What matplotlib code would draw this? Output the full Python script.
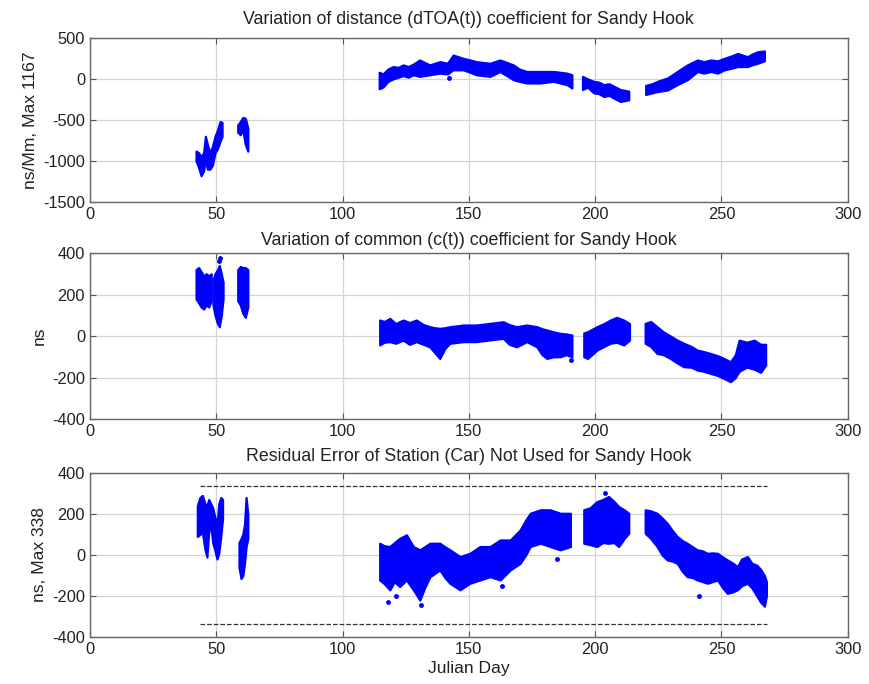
import matplotlib
matplotlib.use("Agg")
import matplotlib.pyplot as plt

plt.rcParams['font.family'] = ['Liberation Sans', 'DejaVu Sans']
plt.rcParams['font.size'] = 11.8
plt.rcParams['axes.unicode_minus'] = False

BLUE = "#0000ff"

# ---- panel 1: distance coefficient, ns/Mm (segments of day, low, high) ----
p1_days_a = [42, 43, 44, 45, 45.7, 46.5, 47.5, 48.5, 49.5, 50.5, 51.5, 52.3]
p1_lo_a = [-1000, -1080, -1180, -1120, -980, -1100, -1100, -1050, -900, -850, -760, -700]
p1_hi_a = [-880, -900, -950, -900, -700, -800, -900, -820, -700, -620, -520, -530]

p1_days_b = [58.5, 59.5, 60.5, 61.5, 62.5]
p1_lo_b = [-650, -680, -620, -800, -880]
p1_hi_b = [-560, -520, -470, -480, -600]

p1_days_c = [114.5, 116, 118, 120, 122, 124, 126, 128, 130.5, 134.5, 138.5, 141.5,
             143.8, 147.8, 150.5, 153, 158.3, 162.3, 165, 167.6, 170, 172.9, 178.2,
             183.5, 188.8, 190.8]
p1_lo_c = [-120, -100, -30, 0, 20, 40, 20, 50, 30, 50, 70, 60,
           110, 110, 80, 50, 30, 90, 40, -10, -30, -50, -50,
           -30, -70, -110]
p1_hi_c = [80, 60, 120, 150, 140, 170, 150, 180, 230, 170, 210, 190,
           290, 250, 230, 210, 190, 230, 200, 170, 120, 90, 90,
           90, 70, 50]

p1_days_d = [195, 197, 199.4, 201.5, 203.4, 205.5, 207.4, 210, 213.3]
p1_lo_d = [-130, -100, -170, -180, -215, -200, -235, -275, -255]
p1_hi_d = [30, 0, -30, -40, -70, -60, -90, -130, -150]

p1_days_e = [220, 222.5, 224.6, 228.6, 232.5, 236.5, 240.5, 243, 245.8, 248.5,
             251.1, 254, 256.4, 260.3, 262, 264.3, 267]
p1_lo_e = [-190, -170, -155, -135, -70, -10, 90, 70, 90, 70,
           110, 130, 150, 150, 170, 190, 220]
p1_hi_e = [-80, -60, -30, 10, 90, 170, 230, 210, 230, 220,
           250, 280, 310, 270, 300, 330, 340]

p1_out_days = [142]
p1_out_vals = [10]

# ---- panel 2: common coefficient, ns ----
p2_days_a = [42, 43, 44, 45, 46, 47, 48]
p2_lo_a = [180, 160, 140, 130, 150, 140, 170]
p2_hi_a = [320, 330, 310, 290, 300, 290, 300]

p2_days_b = [48.7, 49.5, 50.5, 51.2, 52, 52.7]
p2_lo_b = [150, 100, 60, 45, 100, 180]
p2_hi_b = [270, 300, 320, 340, 300, 260]

p2_days_c = [58.5, 59.5, 60.5, 61.5, 62.5]
p2_lo_c = [170, 150, 110, 90, 140]
p2_hi_c = [320, 335, 330, 330, 320]

p2_days_d = [114.7, 116.5, 118.7, 121, 124, 126.5, 129.2, 132, 134.5, 136.5, 138.5,
             140.5, 142.5, 147.8, 153, 158.3, 163.6, 166, 168.9, 172.9, 176.9,
             179, 180.9, 183.5, 186.1, 188.5, 190.8]
p2_lo_d = [-43, -30, -27, -35, -20, -40, -27, -40, -52, -80, -108,
           -60, -35, -27, -27, -19, -11, -40, -52, -27, -52,
           -90, -108, -100, -100, -90, -100]
p2_hi_d = [77, 70, 85, 60, 77, 65, 77, 55, 45, 40, 37,
           40, 45, 53, 53, 61, 69, 55, 45, 53, 45,
           35, 29, 20, 13, 10, 5]

p2_days_e = [195.5, 197, 200.7, 203.5, 206, 208.5, 211.3, 213.6]
p2_lo_e = [-100, -108, -68, -50, -35, -30, -43, -20]
p2_hi_e = [15, 21, 45, 60, 77, 90, 77, 60]

p2_days_f = [219.8, 222, 224.5, 227, 229.8, 232.5, 235.1, 238, 240.4, 243, 245.6,
             248.5, 250.9, 253.6, 255.5, 257, 260, 263, 265.5, 267.5]
p2_lo_f = [-35, -50, -84, -90, -108, -130, -148, -150, -164, -170, -180,
           -190, -204, -220, -200, -170, -150, -160, -175, -140]
p2_hi_f = [61, 70, 45, 20, 0, -20, -35, -50, -68, -75, -84,
           -95, -108, -124, -90, -20, -30, -20, -40, -40]

p2_out_days = [51, 51.3, 190.5]
p2_out_vals = [360, 375, -115]

# ---- panel 3: residual error, ns ----
p3_days_a = [42.5, 43.5, 44.5, 45.5, 46.3, 47, 47.8, 48.6, 49.5, 50.3, 51, 51.8, 52.5]
p3_lo_a = [90, 100, 110, 30, -10, 110, 150, 60, 20, -20, 10, 90, 180]
p3_hi_a = [240, 280, 290, 250, 240, 270, 250, 230, 180, 150, 250, 280, 270]

p3_days_b = [59, 59.8, 60.5, 61.2, 61.8, 62.5]
p3_lo_b = [-60, -115, -100, -40, 40, 80]
p3_hi_b = [60, 80, 100, 150, 280, 200]

p3_days_c = [114.7, 116.5, 118.7, 120.5, 122.6, 125.3, 128, 130.6, 132.5, 134.6,
             138.5, 140.5, 142.5, 146.5, 150.4, 154.4, 158.4, 162.4, 166.4, 170.3,
             172.5, 174.3, 178.3, 182.2, 186.2, 190.2]
p3_lo_c = [-122, -140, -170, -130, -154, -122, -170, -220, -160, -106,
           -73, -110, -138, -170, -138, -122, -106, -122, -73, -41,
           0, 41, 57, 41, 25, 41]
p3_hi_c = [57, 45, 41, 60, 81, 98, 41, 25, 40, 57,
           57, 40, 25, -8, 8, 41, 41, 73, 73, 122,
           170, 203, 220, 220, 203, 203]

p3_days_d = [195.5, 198, 200.7, 203, 205.3, 207.5, 209.3, 211.5, 213.3]
p3_lo_d = [57, 50, 41, 60, 57, 60, 41, 80, 106]
p3_hi_d = [220, 230, 260, 270, 285, 260, 236, 220, 203]

p3_days_e = [219.8, 222, 224.5, 226.5, 228.5, 230.5, 232.5, 234.5, 236.4, 238.5,
             240.4, 242.5, 244.4, 246.5, 248.4, 250.5, 252.3, 254.5, 256.3, 258,
             260.3, 262, 264, 265.5, 267, 267.8]
p3_lo_e = [106, 80, 41, 0, -24, -30, -41, -80, -106, -110,
           -122, -130, -138, -130, -122, -160, -187, -180, -170, -150,
           -138, -160, -200, -230, -250, -200]
p3_hi_e = [220, 215, 203, 180, 155, 120, 90, 70, 57, 40,
           25, 20, 8, 10, 8, -10, -24, -40, -57, -20,
           -8, -40, -50, -70, -100, -130]

p3_out_days = [118, 121, 131, 163, 204, 241, 185]
p3_out_vals = [-230, -200, -245, -150, 300, -200, -20]

p3_limit = 338
p3_limit_days = [43.5, 268]

titles = ["Variation of distance (dTOA(t)) coefficient for Sandy Hook",
          "Variation of common (c(t)) coefficient for Sandy Hook",
          "Residual Error of Station (Car) Not Used for Sandy Hook"]
ylabels = ["ns/Mm, Max 1167", "ns", "ns, Max 338"]
ylims = [(-1500, 500), (-400, 400), (-400, 400)]
yticks = [[-1500, -1000, -500, 0, 500],
          [-400, -200, 0, 200, 400],
          [-400, -200, 0, 200, 400]]

segments = [
    [(p1_days_a, p1_lo_a, p1_hi_a), (p1_days_b, p1_lo_b, p1_hi_b),
     (p1_days_c, p1_lo_c, p1_hi_c), (p1_days_d, p1_lo_d, p1_hi_d),
     (p1_days_e, p1_lo_e, p1_hi_e)],
    [(p2_days_a, p2_lo_a, p2_hi_a), (p2_days_b, p2_lo_b, p2_hi_b),
     (p2_days_c, p2_lo_c, p2_hi_c), (p2_days_d, p2_lo_d, p2_hi_d),
     (p2_days_e, p2_lo_e, p2_hi_e), (p2_days_f, p2_lo_f, p2_hi_f)],
    [(p3_days_a, p3_lo_a, p3_hi_a), (p3_days_b, p3_lo_b, p3_hi_b),
     (p3_days_c, p3_lo_c, p3_hi_c), (p3_days_d, p3_lo_d, p3_hi_d),
     (p3_days_e, p3_lo_e, p3_hi_e)],
]
outliers = [(p1_out_days, p1_out_vals), (p2_out_days, p2_out_vals),
            (p3_out_days, p3_out_vals)]

fig = plt.figure(figsize=(8.7, 6.84), dpi=100)
rects = [[0.1034, 0.7047, 0.871, 0.240],
         [0.1034, 0.3874, 0.871, 0.2427],
         [0.1034, 0.0687, 0.871, 0.240]]
pads = [10, 6, 8.5]

axes = []
for i in range(3):
    ax = fig.add_axes(rects[i])
    axes.append(ax)
    for days, lo, hi in segments[i]:
        ax.fill_between(days, lo, hi, color=BLUE, linewidth=1.6,
                        edgecolor=BLUE, zorder=3)
    ax.plot(outliers[i][0], outliers[i][1], "o", color=BLUE, markersize=2.5, zorder=3)
    ax.set_xlim(0, 300)
    ax.set_ylim(*ylims[i])
    ax.set_xticks([0, 50, 100, 150, 200, 250, 300])
    ax.set_yticks(yticks[i])
    ax.grid(True, color="#d4d4d4", linewidth=0.9, linestyle="-")
    ax.set_axisbelow(True)
    ax.tick_params(direction="in", top=True, right=True, length=4,
                   color="#555555", labelcolor="#222222", labelsize=11.8)
    for s in ax.spines.values():
        s.set_color("#666666")
        s.set_linewidth(1.0)
    ax.set_title(titles[i], fontsize=12.8, pad=pads[i], color="#222222")
    ax.set_ylabel(ylabels[i], color="#222222", fontsize=12.6)

axes[2].plot(p3_limit_days, [p3_limit, p3_limit], "--", color="#333333", linewidth=0.9)
axes[2].plot(p3_limit_days, [-p3_limit, -p3_limit], "--", color="#333333", linewidth=0.9)
axes[2].set_xlabel("Julian Day", color="#222222", fontsize=12.6, labelpad=3)

plt.savefig("out.png", dpi=100)
